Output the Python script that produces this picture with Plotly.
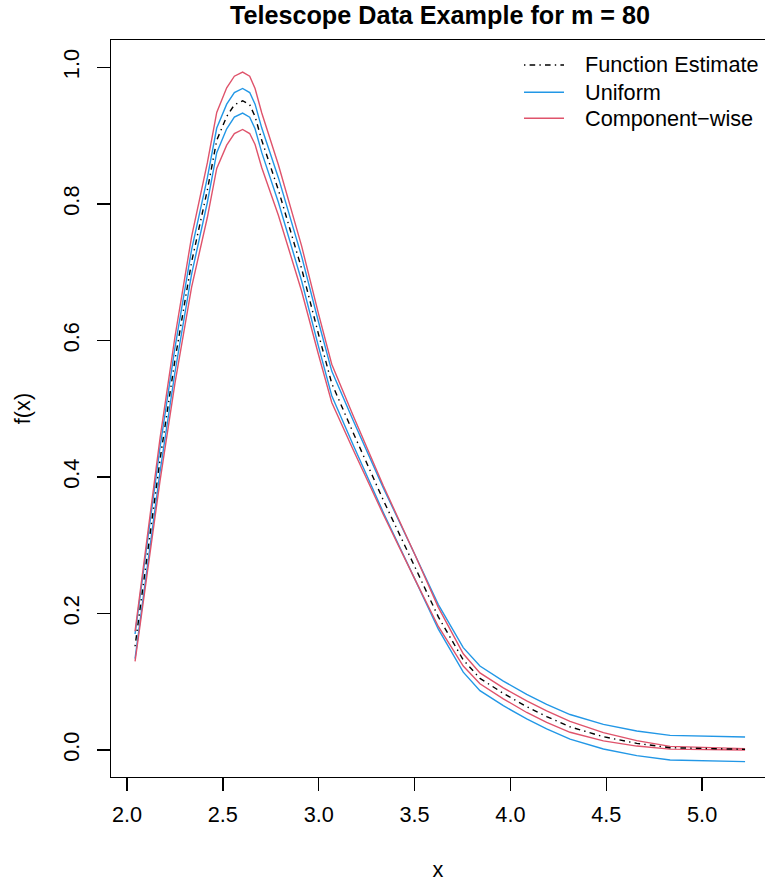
import plotly.graph_objects as go

# ---- data ----
x_grid = [2.042, 2.10, 2.172, 2.25, 2.337, 2.419, 2.468, 2.52, 2.56, 2.603, 2.64, 2.668,
          2.703, 2.79, 2.911, 2.998, 3.068, 3.181, 3.337, 3.502, 3.624, 3.754, 3.841,
          3.963, 4.085, 4.189, 4.311, 4.485, 4.659, 4.833, 5.0, 5.224]

function_estimate = [0.152, 0.274, 0.425, 0.571, 0.715, 0.820, 0.893, 0.928, 0.945, 0.951,
                     0.945, 0.928, 0.893, 0.820, 0.705, 0.610, 0.537, 0.464, 0.366, 0.268,
                     0.195, 0.132, 0.105, 0.083, 0.0635, 0.049, 0.034, 0.0195, 0.0098,
                     0.0034, 0.002, 0.001]

uniform_upper = [0.170, 0.292, 0.443, 0.589, 0.733, 0.838, 0.911, 0.946, 0.963, 0.969,
                 0.963, 0.946, 0.911, 0.838, 0.723, 0.628, 0.555, 0.482, 0.384, 0.286,
                 0.213, 0.150, 0.123, 0.101, 0.0815, 0.067, 0.052, 0.0375, 0.0278,
                 0.0214, 0.020, 0.019]
uniform_lower = [0.134, 0.256, 0.407, 0.553, 0.697, 0.802, 0.875, 0.910, 0.927, 0.933,
                 0.927, 0.910, 0.875, 0.802, 0.687, 0.592, 0.519, 0.446, 0.348, 0.250,
                 0.177, 0.114, 0.087, 0.065, 0.0455, 0.031, 0.016, 0.0015, -0.0082,
                 -0.0146, -0.016, -0.017]

component_upper = [0.174, 0.301, 0.456, 0.605, 0.752, 0.860, 0.934, 0.970, 0.987, 0.993,
                   0.987, 0.969, 0.933, 0.857, 0.738, 0.640, 0.565, 0.489, 0.387, 0.286,
                   0.209, 0.141, 0.113, 0.091, 0.072, 0.0575, 0.042, 0.0255, 0.0138,
                   0.0054, 0.0035, 0.002]
component_lower = [0.130, 0.247, 0.394, 0.537, 0.678, 0.780, 0.852, 0.886, 0.903, 0.909,
                   0.903, 0.887, 0.853, 0.783, 0.672, 0.580, 0.509, 0.439, 0.345, 0.250,
                   0.181, 0.123, 0.097, 0.075, 0.055, 0.0405, 0.026, 0.0135, 0.0058,
                   0.0014, 0.0005, 0.0]

x_ticks = [2.0, 2.5, 3.0, 3.5, 4.0, 4.5, 5.0]
x_tick_labels = ["2.0", "2.5", "3.0", "3.5", "4.0", "4.5", "5.0"]
y_ticks = [0.0, 0.2, 0.4, 0.6, 0.8, 1.0]
y_tick_labels = ["0.0", "0.2", "0.4", "0.6", "0.8", "1.0"]

legend_labels = ["Function Estimate", "Uniform", "Component\u2212wise"]

title_text = "Telescope Data Example for m = 80"
x_label = "x"
y_label = "f(x)"

BLUE = "#2297E6"
RED = "#DF536B"
FONT = "Liberation Sans, Arial, Helvetica, sans-serif"
LW = 1.4
DOTDASH = "1.4px,4.2px,5.6px,4.2px"

W, H = 765, 882
ML, MR, MT, MB = 111, 0, 40, 105
PW, PH = W - ML - MR, H - MT - MB

fig = go.Figure()

fig.add_trace(go.Scatter(x=x_grid, y=uniform_upper, mode="lines", name=legend_labels[1],
                         line=dict(color=BLUE, width=LW), showlegend=False))
fig.add_trace(go.Scatter(x=x_grid, y=uniform_lower, mode="lines", name=legend_labels[1],
                         line=dict(color=BLUE, width=LW), showlegend=False))
fig.add_trace(go.Scatter(x=x_grid, y=component_upper, mode="lines", name=legend_labels[2],
                         line=dict(color=RED, width=LW), showlegend=False))
fig.add_trace(go.Scatter(x=x_grid, y=component_lower, mode="lines", name=legend_labels[2],
                         line=dict(color=RED, width=LW), showlegend=False))
fig.add_trace(go.Scatter(x=x_grid, y=function_estimate, mode="lines", name=legend_labels[0],
                         line=dict(color="black", width=LW, dash=DOTDASH),
                         showlegend=False))

# legend drawn in R's style (key line, then label), top-right inside the plot
legend_styles = [dict(color="black", width=LW, dash=DOTDASH),
                 dict(color=BLUE, width=LW),
                 dict(color=RED, width=LW)]
row_px = [65, 92.3, 118.3]
key_x0, key_x1, text_x = 524, 564, 583


def px_x(p):
    return (p - ML) / PW


def px_y(p):
    return (MT + PH - p) / PH


for lab, sty, ry in zip(legend_labels, legend_styles, row_px):
    fig.add_shape(type="line", xref="paper", yref="paper",
                  x0=px_x(key_x0), x1=px_x(key_x1), y0=px_y(ry), y1=px_y(ry),
                  line=sty)
    fig.add_annotation(text=lab, xref="paper", yref="paper", x=px_x(text_x), y=px_y(ry),
                       xanchor="left", yanchor="middle", showarrow=False,
                       font=dict(size=21.7, family=FONT, color="black"))

fig.update_layout(
    width=W, height=H,
    margin=dict(l=ML, r=MR, t=MT, b=MB, autoexpand=False),
    paper_bgcolor="white", plot_bgcolor="white",
    font=dict(family=FONT, size=21.7, color="black"),
    title=dict(text="<b>" + title_text + "</b>", font=dict(size=25.2, family=FONT),
               x=440 / W, xanchor="center", xref="container",
               y=1 - 15 / H, yanchor="middle", yref="container"),
    showlegend=False,
    hovermode=False,
    xaxis=dict(range=[1.9165, 5.328], tickmode="array", tickvals=x_ticks,
               ticktext=x_tick_labels, ticks="outside", ticklen=13, tickwidth=1.3,
               tickcolor="black", showline=True, linecolor="black", linewidth=1.3,
               mirror=True, showgrid=False, zeroline=False, ticklabelstandoff=5,
               title=dict(text=x_label, standoff=38, font=dict(size=21.7))),
    yaxis=dict(range=[-0.0395, 1.040], tickmode="array", tickvals=y_ticks,
               ticktext=y_tick_labels, ticks="outside", ticklen=13, tickwidth=1.3,
               tickcolor="black", showline=True, linecolor="black", linewidth=1.3,
               mirror=False, showgrid=False, zeroline=False, tickangle=-90,
               ticklabelstandoff=9,
               title=dict(text=y_label, standoff=22, font=dict(size=21.7))),
)

# remove the browser's default 8px body margin so the figure sits at the page origin
fig.write_html("out.html",
               config={"displayModeBar": False, "staticPlot": True},
               post_script="document.body.style.margin='0';document.body.style.overflow='hidden';")
